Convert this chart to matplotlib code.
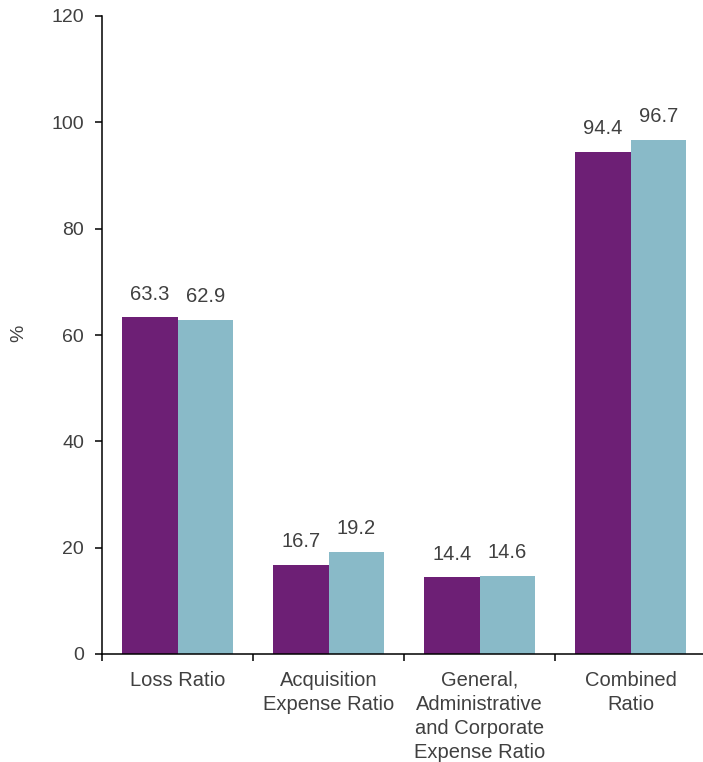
import matplotlib
matplotlib.use("Agg")
import matplotlib.pyplot as plt
import numpy as np
from matplotlib.ticker import FixedLocator, NullFormatter

plt.rcParams['font.family'] = ['Liberation Sans', 'DejaVu Sans']

categories = ["Loss Ratio", "Acquisition\nExpense Ratio",
              "General,\nAdministrative\nand Corporate\nExpense Ratio",
              "Combined\nRatio"]
series_a = [63.3, 16.7, 14.4, 94.4]
series_b = [62.9, 19.2, 14.6, 96.7]
y_ticks = [0, 20, 40, 60, 80, 100, 120]

purple = "#6D1F75"
blue = "#89BAC8"
text_col = "#404040"

fig = plt.figure(figsize=(7.03, 7.62), dpi=100)
ax = fig.add_axes([102 / 703, 108 / 762, 604 / 703, 638 / 762])

x = np.arange(len(categories))
w = 0.367
bars_a = ax.bar(x - w / 2, series_a, width=w, color=purple, linewidth=0)
bars_b = ax.bar(x + w / 2, series_b, width=w, color=blue, linewidth=0)

for bars, vals in ((bars_a, series_a), (bars_b, series_b)):
    for b, v in zip(bars, vals):
        ax.annotate(f"{v:.1f}", (b.get_x() + b.get_width() / 2, v),
                    xytext=(0, 10), textcoords="offset points",
                    ha="center", va="bottom", fontsize=14.5, color=text_col)

ax.set_xlim(-0.5, len(categories) - 0.5)
ax.set_ylim(0, 120)
ax.set_yticks(y_ticks)
ax.tick_params(axis="y", direction="out", length=5, width=1.1,
               color="black", labelsize=14, labelcolor=text_col, pad=8)

# category boundaries carry the tick marks, centres carry the labels
ax.xaxis.set_major_locator(FixedLocator(np.arange(len(categories)) - 0.5))
ax.xaxis.set_major_formatter(NullFormatter())
ax.xaxis.set_minor_locator(FixedLocator(x))
ax.set_xticklabels(categories, minor=True, fontsize=14.5, color=text_col,
                   linespacing=1.33)
ax.tick_params(axis="x", which="major", direction="out", length=5,
               width=1.1, color="black")
ax.tick_params(axis="x", which="minor", length=0, pad=12)

for s in ("top", "right"):
    ax.spines[s].set_visible(False)
for s in ("left", "bottom"):
    ax.spines[s].set_linewidth(1.1)
    ax.spines[s].set_color("black")

fig.text(19 / 703, 1 - 333 / 762, "%", rotation=90, ha="center",
         va="center", fontsize=14, color=text_col)

fig.savefig("out.png", dpi=100)
